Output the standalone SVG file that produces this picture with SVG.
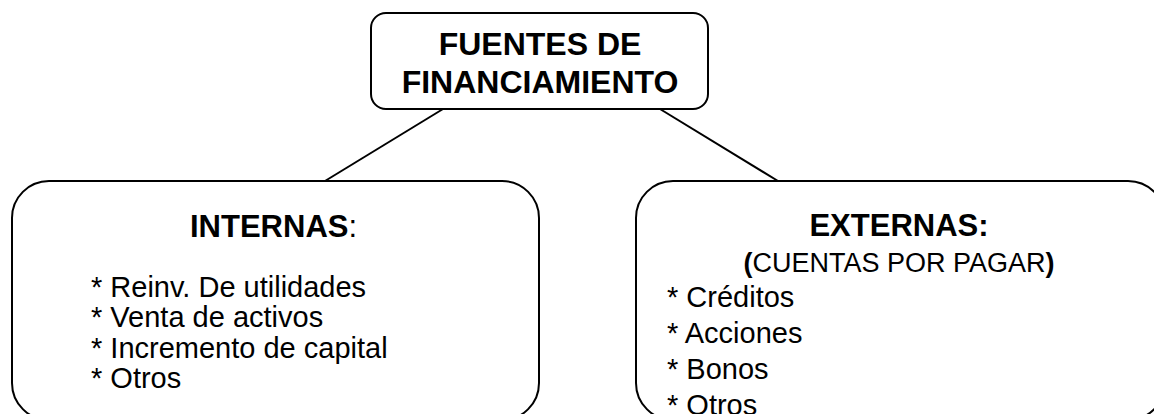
<svg xmlns="http://www.w3.org/2000/svg" width="1154" height="414" viewBox="0 0 1154 414">
<style>
.box{fill:#fff;stroke:#000;stroke-width:2}
.ln{stroke:#000;stroke-width:2;fill:none}
text{font-family:"Liberation Sans",Arial,sans-serif;fill:#000}
.h{font-weight:bold;font-size:31px}
.t{font-size:29px}
</style>
<rect width="1154" height="414" fill="#fff"/>
<g id="connectors">
<line class="ln" x1="443" y1="109" x2="325" y2="181"/>
<line class="ln" x1="660" y1="109" x2="778" y2="181"/>
</g>
<g id="root">
<rect class="box" x="371" y="13" width="337" height="96" rx="15"/>
<text class="h" x="540" y="55" text-anchor="middle" style="font-size:32px">FUENTES DE</text>
<text class="h" x="540" y="93" text-anchor="middle" style="font-size:32px">FINANCIAMIENTO</text>
</g>
<g id="internas">
<rect class="box" x="12" y="181" width="527" height="239" rx="37"/>
<text x="190" y="237"><tspan class="h">INTERNAS</tspan><tspan style="font-size:31px">:</tspan></text>
<text class="t" x="91" y="297">* Reinv. De utilidades</text>
<text class="t" x="91" y="327">* Venta de activos</text>
<text class="t" x="91" y="358">* Incremento de capital</text>
<text class="t" x="91" y="388">* Otros</text>
</g>
<g id="externas">
<rect class="box" x="636" y="181" width="529" height="239" rx="37"/>
<text class="h" x="899" y="236" text-anchor="middle">EXTERNAS:</text>
<text x="899" y="272" text-anchor="middle" style="font-size:27px"><tspan font-weight="bold">(</tspan>CUENTAS POR PAGAR<tspan font-weight="bold">)</tspan></text>
<text class="t" x="667" y="307">* Créditos</text>
<text class="t" x="667" y="343">* Acciones</text>
<text class="t" x="667" y="379">* Bonos</text>
<text class="t" x="667" y="415">* Otros</text>
</g>
</svg>
